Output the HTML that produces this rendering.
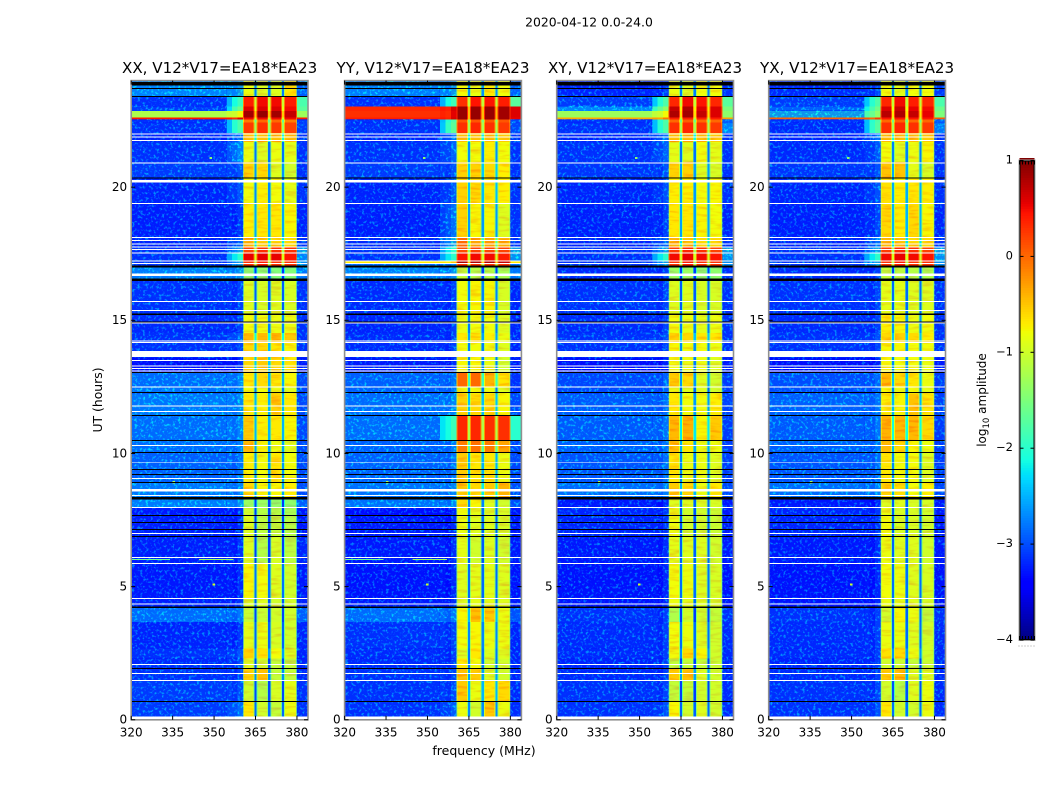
<!DOCTYPE html>
<html lang="en">
<head>
<meta charset="utf-8">
<title>2020-04-12 amplitude waterfall</title>
<style>
html,body{margin:0;padding:0;background:#fff;width:1050px;height:800px;overflow:hidden}
svg{display:block}
text{font-family:"DejaVu Sans","Liberation Sans",sans-serif;fill:#000}
</style>
</head>
<body>
<svg id="chart" xmlns="http://www.w3.org/2000/svg" width="1050" height="800" viewBox="0 0 1050 800">
<defs>
<filter id="grain" x="0" y="0" width="1" height="1" color-interpolation-filters="sRGB">
<feTurbulence type="fractalNoise" baseFrequency="0.37" numOctaves="2" seed="7"/>
<feColorMatrix type="matrix" values="0 0 0 0 0  4.2 0 0 0 -2.2  0 0 0 0 1  0 0 0 0 0.42"/>
</filter>
<filter id="band-grain" x="0" y="0" width="1" height="1" color-interpolation-filters="sRGB">
<feTurbulence type="fractalNoise" baseFrequency="0.06 0.3" numOctaves="2" seed="11"/>
<feColorMatrix type="matrix" values="0 0 0 0 1  2.4 0 0 0 -0.3  0 0 0 0 0  0 0 0 0 0.2"/>
</filter>
</defs>
<text x="589" y="26.5" font-size="12.4" text-anchor="middle">2020-04-12 0.0-24.0</text>
<text x="484" y="755" font-size="12.5" text-anchor="middle">frequency (MHz)</text>
<text x="0" y="0" font-size="12.4" text-anchor="middle" transform="translate(102,400) rotate(-90)">UT (hours)</text>
<text x="0" y="0" font-size="12" text-anchor="middle" transform="translate(986,400) rotate(-90)">log<tspan font-size="8.5" dy="3">10</tspan><tspan dy="-3"> amplitude</tspan></text>
<g id="panels"></g>
<g id="colorbar"></g>
</svg>
<script>
/* ---------- data ---------- */
const panelTitles = ['XX, V12*V17=EA18*EA23','YY, V12*V17=EA18*EA23','XY, V12*V17=EA18*EA23','YX, V12*V17=EA18*EA23'];
const freqTicks = [320,335,350,365,380];
const utTicks = [0,5,10,15,20];
const colorbarTicks = [1,0,-1,-2,-3,-4];
const utEdges = [24,23.41,23.03,22.86,22.62,22.54,22.43,22.03,21.69,20.94,20.35,19.39,18.11,17.77,17.52,17.23,17.14,17.02,16.52,15.23,14.52,14.14,13.6,13.04,12.51,12.26,11.43,10.49,10.04,8.91,8.32,7.97,7.67,6.88,5.87,4.55,4.23,3.67,2.68,2.31,1.92,1.48,0.67,0];
/* frequency spans (MHz) of the spectral blocks */
const lowSpan = [320,354.5];
const shoulderSpan = [354.5,360.5];
const bandSpans = [[360.5,364.6],[365.4,369.6],[370.4,374.6],[375.4,380]];
const rightSpan = [380,384];
/* log10 amplitude per UT block: [low, shoulder, bandA, bandB, bandC, bandD, right] */
const levelsXX = [
[-2.3,-2.2,-.9,-1,-1,-.7,-2.6],[-3,-2,.4,.5,.5,.4,-1.8],[-2.9,-1.7,.6,.6,.6,.5,-1.7],[-1.2,-.9,.85,.9,.85,.7,-1.3],
[.45,.45,.5,.5,.5,.5,.45],[-3,-1.9,-.1,0,0,-.1,-2.9],[-3,-1.9,.25,.3,.25,.2,-2.9],[-3.1,-2.6,-.4,-.4,-.4,-.5,-3],
[-3,-2.4,-.9,-1,-.9,-.95,-3],[-2.9,-2.8,-.55,-.6,-1,-1.1,-3],[-3.1,-2.8,-.85,-.75,-.85,-.95,-3],[-3.15,-3.05,-.75,-.7,-.7,-.8,-3.1],
[-3.1,-2.7,-.3,-.5,-.6,-.6,-3],[-3,-2.2,.2,.3,.3,.3,-2.1],[-3,-2.1,.55,.55,.55,.45,-2.3],[-3,-2.2,.3,.4,.3,.3,-2.2],
[-3,-2.2,.3,.4,.3,.3,-2.2],[-2.35,-2.3,-1.6,-1.6,-1.7,-1.7,-2.4],[-3,-2.95,-1,-1.05,-1,-1.05,-3],[-3.05,-3,-.85,-.85,-.9,-.9,-3],
[-3,-2.7,-.35,-.35,-.45,-.5,-3],[-3,-2.9,-.6,-.6,-.7,-.8,-3],[-3.3,-3.2,-.6,-.5,-.6,-.7,-3.2],[-2.5,-2.4,-.7,-.6,-.7,-.8,-2.8],
[-2.45,-2.4,-.85,-.85,-.9,-1,-2.8],[-2.4,-2.35,-.7,-.75,-.55,-.7,-2.8],[-2.5,-2.4,-.5,-.75,-.7,-.8,-2.8],[-2.5,-2.45,-.35,-.8,-.9,-1,-2.8],
[-2.6,-2.55,-.75,-.85,-.7,-.85,-2.8],[-2.4,-2.4,-.6,-.8,-.8,-.75,-2.75],[-2.35,-2.3,-1.5,-1.5,-1.55,-1.6,-2.6],[-3.2,-3.15,-1.1,-1.3,-1.3,-1.4,-3.2],
[-3.15,-3.1,-1,-1.25,-1.2,-1.3,-3.2],[-3.15,-3.1,-1,-1.3,-1.05,-1.25,-3.1],[-3.2,-3.15,-.8,-.85,-1,-1.1,-3.2],[-3.15,-3.1,-1,-1,-1.1,-1.1,-3.1],
[-2.5,-2.5,-1.15,-1.15,-1.1,-1.1,-2.6],[-3.1,-3.05,-.95,-.9,-1.05,-1.1,-3.1],[-3,-2.8,-.55,-.65,-.85,-1,-3.1],[-3.05,-2.9,-1,-1.1,-1.2,-1.2,-3.1],
[-3,-2.95,-.55,-.4,-1.2,-1.2,-3.1],[-2.9,-2.85,-1.1,-1.3,-1.05,-.95,-3],[-2.9,-2.6,-.7,-1.1,-1.2,-.9,-3]
];
const levelsYY = [
[-2.35,-2.25,-.8,-.9,-.7,-.85,-2.6],[-3,-2,.3,.45,.45,.4,-1.7],[.35,.5,.9,.9,.9,.85,.6],[.3,.45,.9,.9,.9,.85,.6],
[.4,.5,.9,.9,.9,.85,.55],[-3,-1.9,.1,.1,.1,.1,-2.8],[-3,-1.8,.3,.35,.3,.25,-2.8],[-3.1,-2.6,-.4,-.4,-.5,-.5,-3],
[-3,-2.7,-.85,-.85,-.75,-.85,-3],[-2.9,-2.85,-.55,-.55,-.6,-.75,-3],[-3.1,-2.8,-.55,-.6,-.7,-.75,-3],[-3.15,-2.6,-.55,-.8,-.8,-1,-3],
[-3.05,-2.2,0,-.2,-.2,-.3,-3],[-3,-2.1,.15,.2,.2,.2,-2.1],[-3,-2.1,.45,.5,.5,.4,-2.2],[-.7,-.6,.8,.8,.8,.7,-.7],
[-2.5,-2.4,.3,.3,.3,.3,-2.4],[-2.35,-2.3,-1.2,-1.3,-1.3,-1.4,-2.4],[-3.05,-3,-.85,-.8,-.8,-1.05,-3.1],[-3.1,-3,-.9,-.85,-.85,-1,-3.1],
[-3.05,-3,-.7,-.7,-.75,-.9,-3.1],[-3.05,-3,-.85,-.85,-.85,-1,-3.1],[-3.2,-3.15,-.8,-.8,-.9,-1.1,-3.2],[-2.6,-2.55,0,0,-.3,-.7,-3],
[-2.6,-2.55,-.85,-.85,-.9,-1,-3],[-2.5,-2.4,-.55,-.6,-.6,-.8,-2.8],[-2.5,-2,.35,.35,.3,.3,-2],[-2.6,-2.5,-.1,-.05,-.1,-.2,-2.8],
[-2.6,-2.55,-.5,-.7,-.7,-.9,-2.8],[-2.45,-2.4,-.5,-.6,-.5,-.3,-2.75],[-2.45,-2.4,-.6,-.8,-1,-1.1,-2.75],[-3.3,-3.2,-.85,-.95,-1,-1.05,-3.25],
[-3.2,-3.15,-.9,-1,-1,-1.05,-3.2],[-3.2,-3.15,-.95,-1.1,-1,-1.1,-3.2],[-3.25,-3.2,-1,-.95,-.95,-1,-3.25],[-3.2,-3.15,-1,-.95,-.95,-1,-3.2],
[-2.5,-2.5,-.8,-.4,-.5,-.9,-2.7],[-3,-2.95,-.85,-.8,-.9,-.9,-3.1],[-3.05,-3,-1,-.7,-1,-1,-3.1],[-3.05,-3,-.7,-.85,-1.1,-1.1,-3.1],
[-3,-2.95,-.45,-.5,-1,-1.1,-3.1],[-3,-2.9,-.5,-.9,-.7,-.6,-3.05],[-3,-2.75,-.9,-1.1,-.5,-.9,-3.05]
];
const levelsXY = [
[-3.1,-3,-.9,-1,-.85,-.85,-3],[-2.9,-1.9,.35,.5,.45,.35,-1.7],[-2.3,-1.5,.7,.8,.6,.6,-1.5],[-1.3,-.9,.8,.85,.7,.6,-1.4],
[-.35,-.2,.4,.4,.4,.4,-.3],[-3,-1.9,0,.05,0,0,-2.6],[-3,-1.9,.3,.35,.3,.25,-2.3],[-3.1,-2.6,-.4,-.4,-.4,-.5,-3],
[-3,-2.7,-.95,-1,-.85,-.95,-3],[-2.95,-2.85,-.55,-.55,-1,-1.05,-3],[-3.1,-2.85,-.75,-.75,-.85,-.8,-3],[-3.15,-3,-.7,-.7,-.8,-.85,-3.1],
[-3.1,-2.7,-.35,-.45,-.6,-.6,-3],[-3,-2.2,.25,.35,.3,.2,-2.1],[-3,-2.1,.5,.55,.5,.45,-2.2],[-3,-2.2,.3,.4,.3,.3,-2.2],
[-3,-2.2,.3,.4,.3,.3,-2.2],[-3.05,-3,-1.5,-1.5,-1.6,-1.6,-3],[-3,-2.95,-1,-1,-1.05,-1.05,-3],[-3.05,-3,-.85,-.9,-.95,-.9,-3],
[-3,-2.85,-.55,-.6,-.7,-.7,-3],[-3,-2.95,-.8,-.85,-.85,-.9,-3],[-3.3,-3.25,-.85,-.9,-.9,-1,-3.2],[-2.8,-2.7,-.5,-.6,-1,-1.1,-2.9],
[-2.8,-2.7,-.9,-1,-1,-1.1,-2.9],[-2.65,-2.6,-.7,-.85,-.85,-.75,-2.85],[-2.65,-2.55,-.35,-.3,-.8,-.5,-2.9],[-2.6,-2.55,-.4,-.7,-.9,-.9,-2.9],
[-2.7,-2.6,-.7,-.9,-.9,-1,-2.9],[-2.5,-2.45,-.5,-.6,-.9,-.7,-2.8],[-3.2,-3.2,-1,-1,-1,-1.05,-3.2],[-3.1,-3.05,-.9,-1.1,-1.1,-1.15,-3.2],
[-3.1,-3.05,-.9,-1.1,-1.1,-1.15,-3.2],[-3.2,-3.15,-.95,-1,-1,-1.1,-3.2],[-3.25,-3.2,-.85,-.9,-1,-1.05,-3.25],[-3.25,-3.2,-.9,-.95,-1,-1.05,-3.25],
[-3,-3,-1.35,-1.1,-1.1,-1.2,-3],[-3.05,-3,-.85,-.9,-1,-1.1,-3.05],[-3.05,-3,-.85,-.6,-.8,-1.1,-3.05],[-3.1,-3,-1.2,-1.2,-1.2,-1.15,-3.05],
[-3.05,-3,-.5,-.45,-1,-1.1,-3.05],[-3,-2.95,-1.2,-1.2,-1.1,-1.1,-3.05],[-3,-2.85,-.8,-1.1,-1,-1.1,-3.05]
];
const levelsYX = [
[-3.05,-2.9,-.85,-.95,-.85,-.85,-2.9],[-2.9,-1.9,.35,.5,.4,.35,-1.8],[-2.6,-1.7,.6,.7,.55,.5,-1.6],[-2.1,-1.5,.75,.8,.7,.55,-1.5],
[.05,.15,.45,.45,.45,.45,.1],[-3,-1.9,0,.05,0,0,-2.6],[-3.05,-1.85,.3,.35,.3,.25,-2.4],[-3.1,-2.6,-.35,-.4,-.4,-.5,-3],
[-3.05,-2.8,-.85,-1,-.9,-.8,-3],[-2.95,-2.85,-.45,-.45,-.95,-1.05,-3],[-3.1,-2.85,-.65,-.75,-.7,-.75,-3],[-3.15,-2.95,-.6,-.75,-.6,-.8,-3.1],
[-3.1,-2.6,-.35,-.45,-.6,-.6,-3],[-3,-2.2,.25,.35,.3,.2,-2.1],[-3,-2.1,.5,.55,.5,.45,-2.2],[-3,-2.2,.3,.4,.3,.3,-2.2],
[-3,-2.2,.3,.4,.3,.3,-2.2],[-3.05,-3,-1.2,-1.25,-1.3,-1.35,-3],[-3,-2.95,-.95,-.95,-1,-1,-3],[-3.05,-3,-.75,-.8,-.9,-.85,-3],
[-3,-2.85,-.6,-.55,-.6,-.75,-3],[-3,-2.95,-.8,-.8,-.85,-.85,-3],[-3.3,-3.25,-.8,-.85,-.85,-.9,-3.2],[-2.75,-2.65,-.35,-.6,-.7,-.9,-2.9],
[-2.75,-2.65,-.8,-.9,-.85,-.95,-2.9],[-2.6,-2.55,-.75,-.8,-.45,-.7,-2.85],[-2.65,-2.55,-.3,-.35,-.35,-.6,-2.9],[-2.6,-2.55,-.35,-.6,-.8,-.9,-2.9],
[-2.7,-2.6,-.7,-.85,-.85,-1,-2.9],[-2.5,-2.45,-.55,-.65,-.85,-.75,-2.8],[-3.2,-3.2,-1,-1,-1.05,-1.05,-3.2],[-3.1,-3.05,-.9,-1.05,-1.05,-1.1,-3.2],
[-3.1,-3.05,-.85,-1.05,-1.05,-1.1,-3.2],[-3.2,-3.15,-.9,-1,-1,-1.1,-3.2],[-3.25,-3.2,-.85,-.9,-1,-1.05,-3.25],[-3.25,-3.2,-.9,-.95,-1,-1.05,-3.25],
[-3,-3,-1.1,-.8,-.9,-1.2,-3],[-3.05,-3,-.9,-.9,-1,-1.1,-3.05],[-3.05,-3,-.65,-.6,-.9,-1.1,-3.05],[-3.1,-3,-1.1,-1.15,-1.2,-1.15,-3.05],
[-3.05,-3,-.5,-.4,-1,-1,-3.05],[-3,-2.95,-1.1,-1.3,-1,-.9,-3.05],[-3,-2.85,-.7,-1.1,-1.1,-.9,-3.05]
];
/* flagged integrations: UT centre and duration in hours */
const whiteFlagUT = [22,21.89,21.76,20.91,20.22,19.39,18.11,18,17.87,17.75,17.66,17.53,17.23,17.14,16.71,15.71,15.37,14.89,14.23,14.17,13.73,13.49,13.28,13.19,13.1,12.5,11.79,11.58,10.3,9.67,9.06,8.62,8.42,7.97,6.99,6.09,5.87,4.55,4.35,2.07,1.74,1.47,0.07];
const whiteFlagHours = [.037,.037,.037,.037,.11,.037,.037,.037,.037,.037,.037,.037,.037,.037,.11,.037,.037,.037,.037,.037,.22,.037,.037,.037,.037,.037,.037,.037,.037,.037,.037,.08,.037,.037,.037,.037,.037,.037,.037,.037,.037,.037,.1];
const blackFlagUT = [23.89,23.71,23.41,20.35,17.02,16.52,15.23,14.93,13.04,12.29,11.43,10.49,10.04,9.4,9.21,8.91,8.32,7.67,7.41,7.14,6.88,4.23,1.92,0.68];
const blackFlagHours = [.13,.037,.037,.037,.06,.09,.05,.037,.05,.05,.037,.037,.037,.037,.037,.037,.09,.037,.037,.037,.037,.05,.037,.037];
/* isolated hot pixels: frequency, UT, level */
const spikeFreq = [348.3,335,349.4];
const spikeUT = [21.09,8.92,5.08];
const spikeLevel = [-1.4,-1.2,-1.0];
/* RFI streak at UT 6.03 seen in the co-polar panels */
const streakFreqStart = [320,344.5];
const streakFreqEnd = [334,357];
const streakLevel = [-1.6,-1.3];

/* ---------- scales ---------- */
const NS = 'http://www.w3.org/2000/svg';
const panelLevels = [levelsXX,levelsYY,levelsXY,levelsYX];
const axesLeft = [131.2,344.6,556.7,768.7];
const axesWidth = 176.8;
const axesTop = 80.6, axesBottom = 719.8;
const freqMin = 320, freqMax = 384, utMax = 24;
const cbarLeft = 1019.5, cbarRight = 1034.5, cbarTop = 160.5, cbarBottom = 640;
const levelMin = -4, levelMax = 1;
const bandCalibration = 0.04;

function xScale(p,f){return axesLeft[p]+(f-freqMin)/(freqMax-freqMin)*axesWidth;}
function yScale(t){return axesBottom-t/utMax*(axesBottom-axesTop);}
function cbarY(v){return cbarBottom-(v-levelMin)/(levelMax-levelMin)*(cbarBottom-cbarTop);}
function jetChan(t,a,b,c,d){ // piecewise ramp
  if(t<a)return 0;
  if(t<b)return (t-a)/(b-a);
  if(t<c)return 1;
  if(t<d)return 1-(t-c)/(d-c);
  return 0;
}
function jet(v){
  const t=Math.max(0,Math.min(1,(v-levelMin)/(levelMax-levelMin)));
  const r=t<.89?jetChan(t,.35,.66,2,3):1-(t-.89)/.11*.5;
  const g=jetChan(t,.125,.375,.64,.91);
  const b=t<.11?.5+t/.11*.5:jetChan(t,-1,0,.34,.65);
  return 'rgb('+Math.round(r*255)+','+Math.round(g*255)+','+Math.round(b*255)+')';
}
function rectEl(parent,x,y,w,h,fill){
  const r=document.createElementNS(NS,'rect');
  r.setAttribute('x',x);r.setAttribute('y',y);r.setAttribute('width',w);r.setAttribute('height',h);
  r.setAttribute('fill',fill);r.setAttribute('shape-rendering','crispEdges');
  parent.appendChild(r);
  return r;
}
function cell(parent,p,f0,f1,tHigh,tLow,level){
  const x=xScale(p,f0), y=yScale(tHigh);
  return rectEl(parent,x,y,xScale(p,f1)-x,yScale(tLow)-y,jet(level));
}
function lineEl(parent,x1,y1,x2,y2,color,width){
  const l=document.createElementNS(NS,'line');
  l.setAttribute('x1',x1);l.setAttribute('y1',y1);l.setAttribute('x2',x2);l.setAttribute('y2',y2);
  l.setAttribute('stroke',color);l.setAttribute('stroke-width',width);
  parent.appendChild(l);
  return l;
}
function textEl(parent,x,y,str,size,anchor){
  const t=document.createElementNS(NS,'text');
  t.setAttribute('x',x);t.setAttribute('y',y);t.setAttribute('font-size',size);t.setAttribute('text-anchor',anchor);
  t.textContent=str;
  parent.appendChild(t);
  return t;
}
function fmtNum(v){return (v<0?'\u2212':'')+Math.abs(v);}

/* ---------- panels ---------- */
const panelsG=document.getElementById('panels');
panelLevels.forEach(function(levels,p){
  const g=document.createElementNS(NS,'g');
  
  
  panelsG.appendChild(g);

  levels.forEach(function(row,i){
    const hi=utEdges[i], lo=utEdges[i+1];
    const a=cell(g,p,lowSpan[0],lowSpan[1],hi,lo,row[0]);
    
    
    const s0=cell(g,p,shoulderSpan[0],shoulderSpan[0]+2,hi,lo,(row[0]+row[1])/2);
    
    
    const s=cell(g,p,shoulderSpan[0]+2,shoulderSpan[0]+4,hi,lo,row[1]-0.12);
    
    
    const s2=cell(g,p,shoulderSpan[0]+4,shoulderSpan[1],hi,lo,row[1]+0.12);
    
    
    const r=cell(g,p,rightSpan[0],rightSpan[1],hi,lo,row[6]);
    
    
    const bandMean=(row[2]+row[3]+row[4]+row[5])/4;
    const gapLevel=Math.max(-3.1,bandMean*1.3-1.6);
    const gap=cell(g,p,bandSpans[0][0],bandSpans[3][1],hi,lo,gapLevel);
    
    
    bandSpans.forEach(function(sp,b){
      const lvl=row[2+b]+(row[2+b]<-.4?bandCalibration:0);
      const edge=cell(g,p,sp[0],sp[1],hi,lo,lvl-0.55);
      
      
      const c=cell(g,p,sp[0]+0.35,sp[1]-0.35,hi,lo,lvl);
      
      
      if(lvl<-.15 && lvl>-1.7){
        const bg=cell(g,p,sp[0]+0.35,sp[1]-0.35,hi,lo,lvl);
        bg.setAttribute('filter','url(#band-grain)');
        
        
      }
    });
    if(row[0]<-2){
      const gr=cell(g,p,lowSpan[0],lowSpan[1],hi,lo,row[0]);
      gr.setAttribute('filter','url(#grain)');
      
      
    }
    if(row[1]<-2.15){
      const gs=cell(g,p,shoulderSpan[0],shoulderSpan[1],hi,lo,row[1]);
      gs.setAttribute('filter','url(#grain)');
      
      
    }
    if(row[6]<-2){
      const gt=cell(g,p,rightSpan[0],rightSpan[1],hi,lo,row[6]);
      gt.setAttribute('filter','url(#grain)');
      
      
    }
  });

  spikeFreq.forEach(function(f,i){
    const sp=cell(g,p,f,f+0.9,spikeUT[i]+.04,spikeUT[i]-.04,spikeLevel[i]);
    
    
  });
  if(p<2){
    streakFreqStart.forEach(function(f,i){
      const st=cell(g,p,f,streakFreqEnd[i],6.04,6.0,streakLevel[i]);
      
      
    });
  }

  whiteFlagUT.forEach(function(t,i){
    const h=whiteFlagHours[i];
    const w=rectEl(g,xScale(p,freqMin),yScale(t+h/2),axesWidth,yScale(t-h/2)-yScale(t+h/2),'#ffffff');
    
    
  });
  blackFlagUT.forEach(function(t,i){
    const h=blackFlagHours[i];
    const k=rectEl(g,xScale(p,freqMin),yScale(t+h/2),axesWidth,yScale(t-h/2)-yScale(t+h/2),'#000000');
    
    
  });

  const frame=document.createElementNS(NS,'rect');
  frame.setAttribute('x',axesLeft[p]);frame.setAttribute('y',axesTop);
  frame.setAttribute('width',axesWidth);frame.setAttribute('height',axesBottom-axesTop);
  frame.setAttribute('fill','none');frame.setAttribute('stroke','#8f8f8f');frame.setAttribute('stroke-width','1.6');
  
  
  g.appendChild(frame);

  freqTicks.forEach(function(f){
    const x=xScale(p,f);
    const b=lineEl(g,x,axesBottom,x,axesBottom-4,'#000',1);
    
    
    const tp=lineEl(g,x,axesTop,x,axesTop+4,'#000',1);
    
    
    const lab=textEl(g,x,736.5,String(f),12,'middle');
    
    
  });
  utTicks.forEach(function(t){
    const y=yScale(t);
    const l=lineEl(g,axesLeft[p],y,axesLeft[p]+4,y,'#000',1);
    
    
    const r=lineEl(g,axesLeft[p]+axesWidth,y,axesLeft[p]+axesWidth-4,y,'#000',1);
    
    
    const lab=textEl(g,axesLeft[p]-4,y+3.8,String(t),12,'end');
    
    
  });
  const title=textEl(g,axesLeft[p]+axesWidth/2,73,panelTitles[p],15.1,'middle');
  
  
});

/* ---------- colorbar ---------- */
const cb=document.getElementById('colorbar');
for(let v=levelMin;v<levelMax;v+=0.025){
  const y=cbarY(v+0.025);
  const sw=rectEl(cb,cbarLeft,y,cbarRight-cbarLeft,cbarY(v)-y+0.5,jet(v+0.0125));
  
  
}
const cbFrame=document.createElementNS(NS,'rect');
cbFrame.setAttribute('x',cbarLeft-0.5);cbFrame.setAttribute('y',cbarTop-0.5);
cbFrame.setAttribute('width',cbarRight-cbarLeft+1);cbFrame.setAttribute('height',cbarBottom-cbarTop+1);
cbFrame.setAttribute('fill','none');cbFrame.setAttribute('stroke','#a0a0a0');cbFrame.setAttribute('stroke-width','1');


cb.appendChild(cbFrame);
const cbInner=document.createElementNS(NS,'rect');
cbInner.setAttribute('x',cbarLeft+0.5);cbInner.setAttribute('y',cbarTop+0.5);
cbInner.setAttribute('width',cbarRight-cbarLeft-1);cbInner.setAttribute('height',cbarBottom-cbarTop-1);
cbInner.setAttribute('fill','none');cbInner.setAttribute('stroke','#000');cbInner.setAttribute('stroke-width','1');


cb.appendChild(cbInner);
colorbarTicks.forEach(function(v){
  const y=cbarY(v);
  const tl=lineEl(cb,cbarLeft,y,cbarLeft+4,y,'#000',1);
  
  
  const tr=lineEl(cb,cbarRight,y,cbarRight-4,y,'#000',1);
  
  
  const lab=textEl(cb,1013,y+3,fmtNum(v),11.5,'end');
  
  
});
for(let k=0;k<6;k++){
  const x=cbarLeft+k*3;
  const hatchTop=lineEl(cb,x,cbarTop,x,cbarTop+4,'#000',1);
  
  
  const hatchBottom=lineEl(cb,x,cbarBottom,x,cbarBottom-4,'#000',1);
  
  
  const dot=lineEl(cb,x-1,646,x,646,'#999',1);
  
  
}
</script>
</body>
</html>
